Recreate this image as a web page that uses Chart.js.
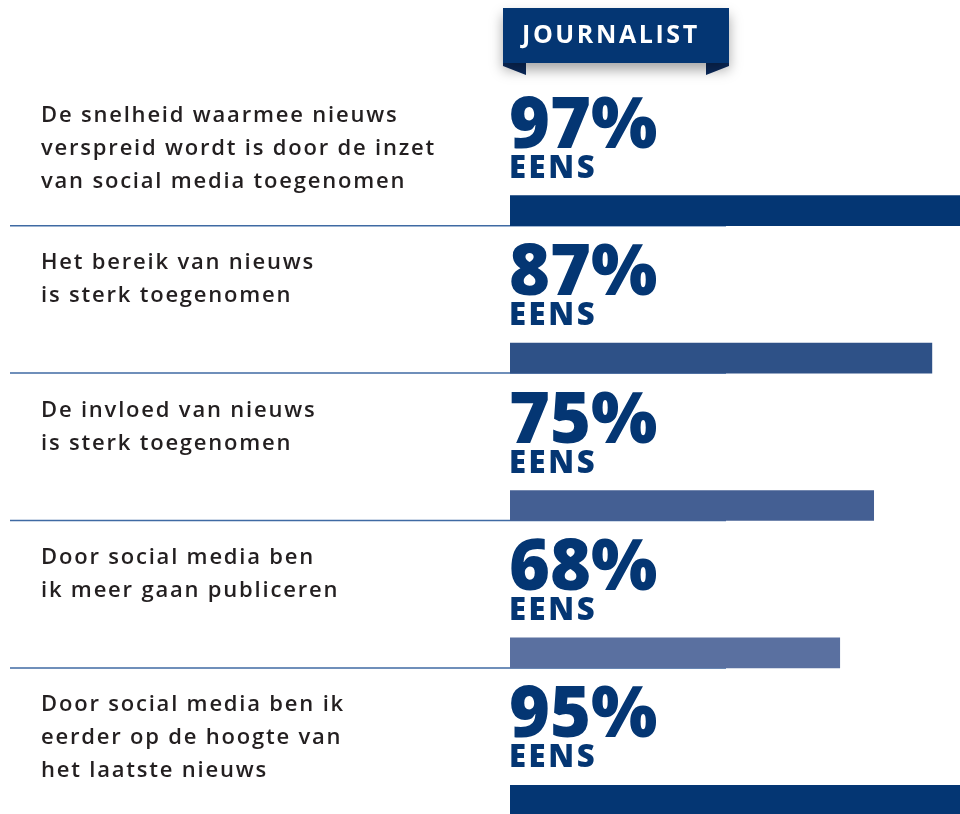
<!DOCTYPE html>
<html>
<head>
<meta charset="utf-8">
<script src="https://cdn.jsdelivr.net/npm/chart.js@4.4.0/dist/chart.umd.min.js"></script>
<style>
  html, body { margin: 0; padding: 0; background: #fff; overflow: hidden; }
  #wrap { position: relative; width: 960px; height: 880px; }
</style>
</head>
<body>
<div id="wrap"><canvas id="grafiek" width="960" height="880"></canvas></div>
<script>
// stellingen (per regel), percentage "eens" en balkkleur per stelling
const stellingen = [
  ["De snelheid waarmee nieuws", "verspreid wordt is door de inzet", "van social media toegenomen"],
  ["Het bereik van nieuws", "is sterk toegenomen"],
  ["De invloed van nieuws", "is sterk toegenomen"],
  ["Door social media ben", "ik meer gaan publiceren"],
  ["Door social media ben ik", "eerder op de hoogte van", "het laatste nieuws"]
];
const eensPct = [97, 87, 75, 68, 95];
const barKleuren = ["#043673", "#2e5187", "#445f93", "#5a70a0", "#043673"];
const groepNaam = "JOURNALIST";
const eensTekst = "EENS";

const NAVY = "#043673";

// lint met "JOURNALIST" bovenaan de kolom
const lintPlugin = {
  id: "lint",
  afterDraw(chart) {
    const ctx = chart.ctx;
    const x0 = chart.chartArea.left - 7, x1 = 729, y0 = 8, y1 = 63;
    ctx.save();
    ctx.fillStyle = "#0b2b5e";
    ctx.beginPath();
    ctx.moveTo(x0, y1 - 2); ctx.lineTo(x0 + 23, y1 - 2); ctx.lineTo(x0 + 23, y1 + 12); ctx.lineTo(x0, y1 + 3);
    ctx.closePath(); ctx.fill();
    ctx.beginPath();
    ctx.moveTo(x1, y1 - 2); ctx.lineTo(x1 - 23, y1 - 2); ctx.lineTo(x1 - 23, y1 + 12); ctx.lineTo(x1, y1 + 3);
    ctx.closePath(); ctx.fill();
    ctx.shadowColor = "rgba(0,0,0,0.35)";
    ctx.shadowBlur = 12;
    ctx.shadowOffsetY = 7;
    ctx.fillStyle = NAVY;
    ctx.fillRect(x0, y0, x1 - x0, y1 - y0);
    ctx.restore();
    ctx.save();
    ctx.fillStyle = "#fff";
    ctx.font = "700 25px 'Open Sans'";
    ctx.letterSpacing = "2.6px";
    ctx.textBaseline = "alphabetic";
    ctx.fillText(groepNaam, x0 + 19, 43);
    ctx.restore();
  }
};

// scheidingslijnen, stellingen en percentages bij elke balk
const tekstPlugin = {
  id: "teksten",
  beforeDatasetsDraw(chart) {
    const ctx = chart.ctx;
    const bars = chart.getDatasetMeta(0).data;
    ctx.save();
    ctx.strokeStyle = "#3f6aa3";
    ctx.lineWidth = 1.5;
    bars.forEach((bar, i) => {
      if (i === bars.length - 1) return;
      const y = bar.y + bar.height / 2;
      ctx.beginPath();
      ctx.moveTo(10, y);
      ctx.lineTo(726, y);
      ctx.stroke();
    });
    ctx.restore();
  },
  afterDatasetsDraw(chart) {
    const ctx = chart.ctx;
    const bars = chart.getDatasetMeta(0).data;
    const left = chart.chartArea.left;
    ctx.save();
    bars.forEach((bar, i) => {
      ctx.fillStyle = "#231f20";
      ctx.font = "600 22px 'Open Sans'";
      ctx.letterSpacing = "1.8px";
      stellingen[i].forEach((regel, r) => {
        ctx.fillText(regel, 41, bar.y - 89 + r * 33);
      });
      ctx.fillStyle = NAVY;
      ctx.font = "800 70px 'Open Sans'";
      ctx.letterSpacing = "0px";
      ctx.fillText(eensPct[i] + "%", left - 1, bar.y - 63);
      ctx.font = "800 31px 'Open Sans'";
      ctx.letterSpacing = "2.6px";
      ctx.fillText(eensTekst, left - 1, bar.y - 33);
    });
    ctx.restore();
  }
};

new Chart(document.getElementById("grafiek"), {
  type: "bar",
  data: {
    labels: stellingen.map(s => s.join(" ")),
    datasets: [{
      data: eensPct,
      backgroundColor: barKleuren,
      borderWidth: 0,
      barThickness: 30
    }]
  },
  options: {
    indexAxis: "y",
    responsive: false,
    animation: false,
    layout: { padding: { left: 510, right: 0, top: 137, bottom: 6 } },
    scales: {
      x: { display: false, min: 0, max: 92.8 },
      y: { display: false }
    },
    plugins: {
      legend: { display: false },
      tooltip: { enabled: false }
    }
  },
  plugins: [tekstPlugin, lintPlugin]
});
</script>
</body>
</html>
